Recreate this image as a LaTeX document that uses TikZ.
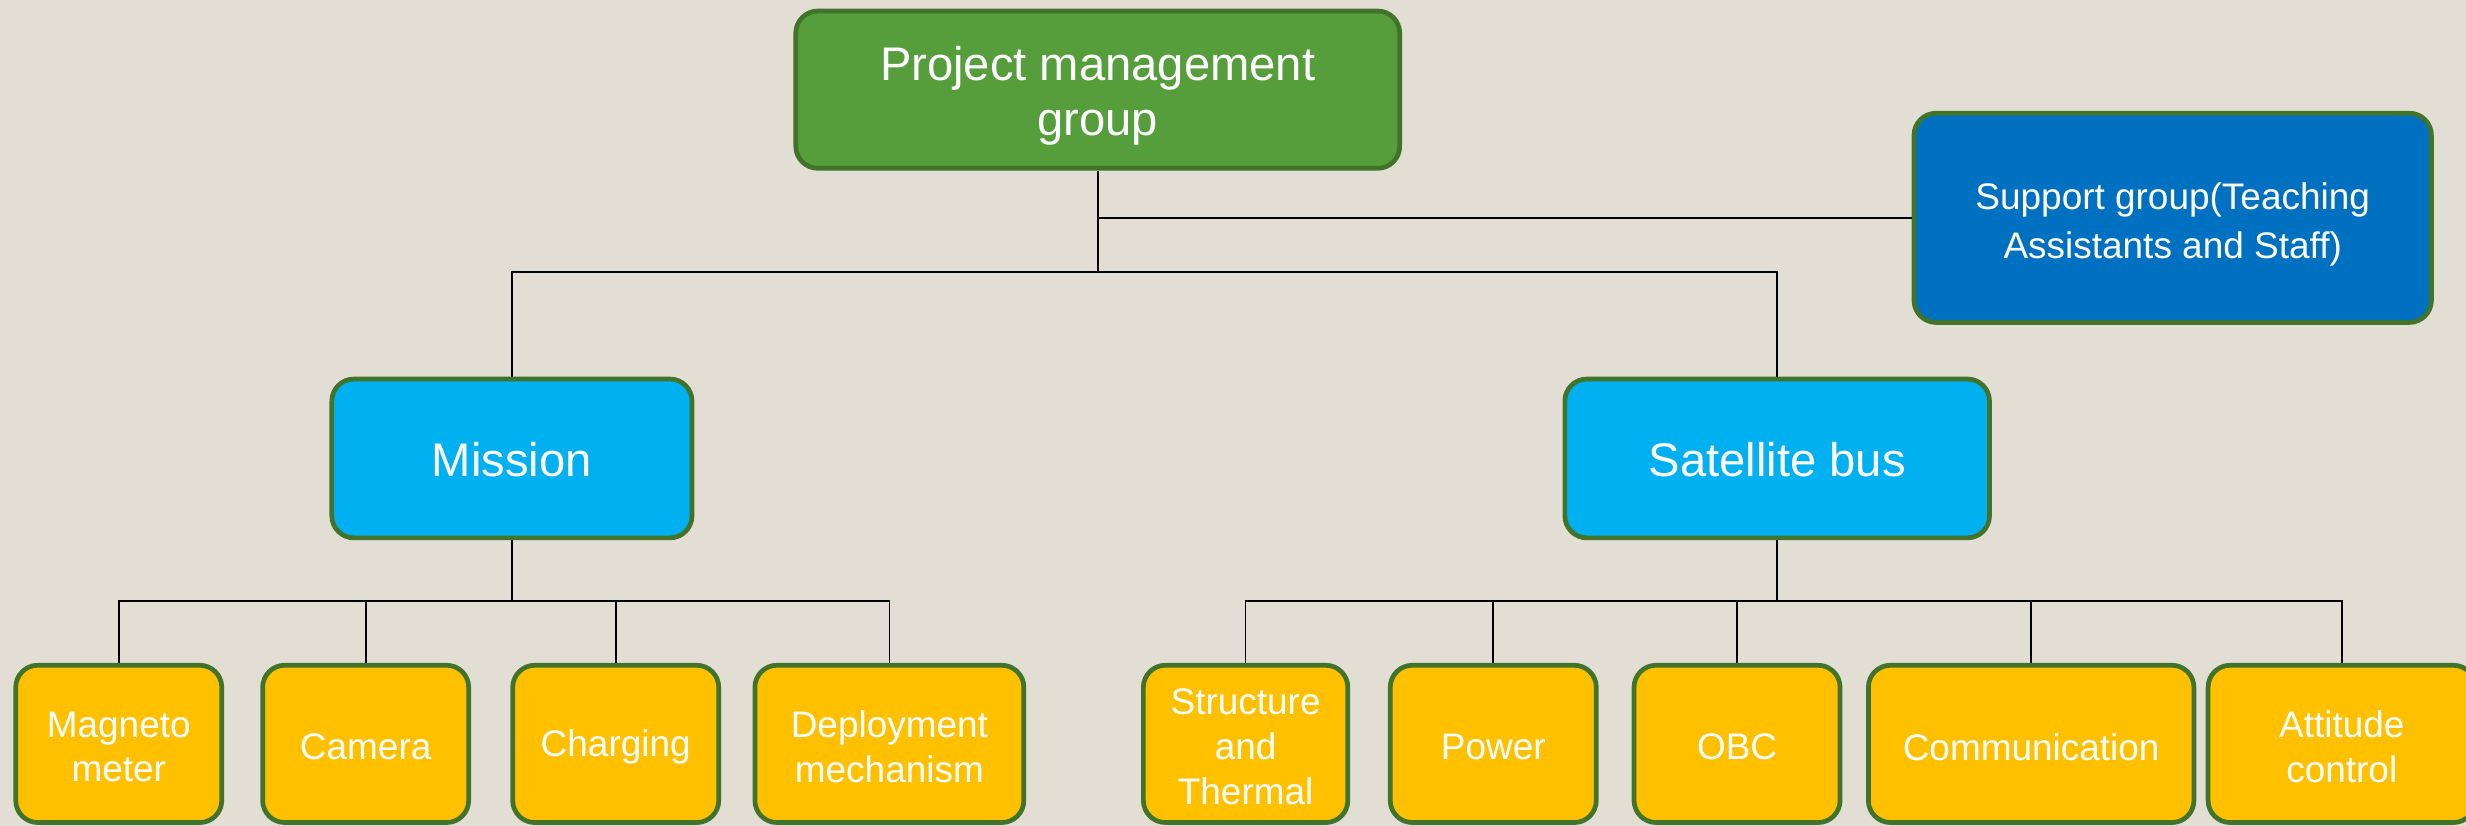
\documentclass[tikz,border=0pt]{standalone}
\usepackage{fontspec}
\setmainfont{Liberation Sans}
\definecolor{bgc}{HTML}{E3DED3}
\definecolor{edgegreen}{HTML}{41732A}
\definecolor{pmgfill}{HTML}{559E3B}
\definecolor{supfill}{HTML}{0070C0}
\definecolor{midfill}{HTML}{00B0F0}
\definecolor{leaffill}{HTML}{FFC000}
\begin{document}
\begin{tikzpicture}[x=1pt,y=-1pt,
  box/.style={draw=edgegreen, line width=3pt, rounded corners=14pt,
    inner sep=0pt, anchor=center},
  boxtext/.style={text=white, align=center, inner sep=0pt},
  toplevel/.style={box, fill=pmgfill, minimum width=384pt, minimum height=100pt,
    label={[boxtext, font=\fontsize{30}{35}\selectfont, yshift=-4pt]center:#1}},
  supportbox/.style={box, fill=supfill, minimum width=329pt, minimum height=133pt,
    label={[boxtext, font=\fontsize{23.5}{31}\selectfont, yshift=-4pt]center:#1}},
  midlevel/.style={box, fill=midfill, minimum height=101pt,
    label={[boxtext, font=\fontsize{30}{35}\selectfont, yshift=-1pt]center:#1}},
  leaf/.style={box, fill=leaffill, minimum height=100pt,
    label={[boxtext, font=\fontsize{23.5}{28.5}\selectfont, yshift=-2pt]center:#1}},
  link/.style={draw=black, line width=1.1pt}]

\fill[bgc] (0,0) rectangle (1568,525);
\useasboundingbox (0,0) rectangle (1568,525);

% upper levels
\node[toplevel={Project management\\group}] (pmg) at (698,57) {};
\node[supportbox={Support group(Teaching\\Assistants and Staff)}] (sup) at (1381.5,138.5) {};
\node[midlevel={Mission}, minimum width=229pt] (mis) at (325.5,291.5) {};
\node[midlevel={Satellite bus}, minimum width=270pt] (bus) at (1130,291.5) {};

% mission subsystems
\node[leaf={Magneto\\meter}, minimum width=131pt] (mag) at (75.5,473) {};
\node[leaf={Camera}, minimum width=131pt] (cam) at (232.5,473) {};
\node[leaf={Charging}, minimum width=131pt] (chg) at (391.5,473) {};
\node[leaf={Deployment\\mechanism}, minimum width=171pt] (dep) at (565.5,473) {};

% bus subsystems
\node[leaf={Structure\\and\\Thermal}, minimum width=130pt] (str) at (792,473) {};
\node[leaf={Power}, minimum width=131pt] (pow) at (949.5,473) {};
\node[leaf={OBC}, minimum width=131pt] (obc) at (1104.5,473) {};
\node[leaf={Communication}, minimum width=207pt] (com) at (1291.5,473) {};
\node[leaf={Attitude\\control}, minimum width=170pt] (att) at (1489,473) {};

% junctions
\coordinate (tj) at (698,173);
\coordinate (mj) at (325.5,382);
\coordinate (bj) at (1130,382);

% connectors
\draw[link] (pmg.south) -- (tj);
\draw[link] (pmg.south |- sup.west) -- (sup.west);
\draw[link] (mis.north) |- (tj) -| (bus.north);

\draw[link] (mis.south) -- (mj);
\draw[link] (mag.north) |- (mj) -| (dep.north);
\draw[link] (cam.north) -- (cam.north |- mj);
\draw[link] (chg.north) -- (chg.north |- mj);

\draw[link] (bus.south) -- (bj);
\draw[link] (str.north) |- (bj) -| (att.north);
\draw[link] (pow.north) -- (pow.north |- bj);
\draw[link] (obc.north) -- (obc.north |- bj);
\draw[link] (com.north) -- (com.north |- bj);
\end{tikzpicture}
\end{document}
